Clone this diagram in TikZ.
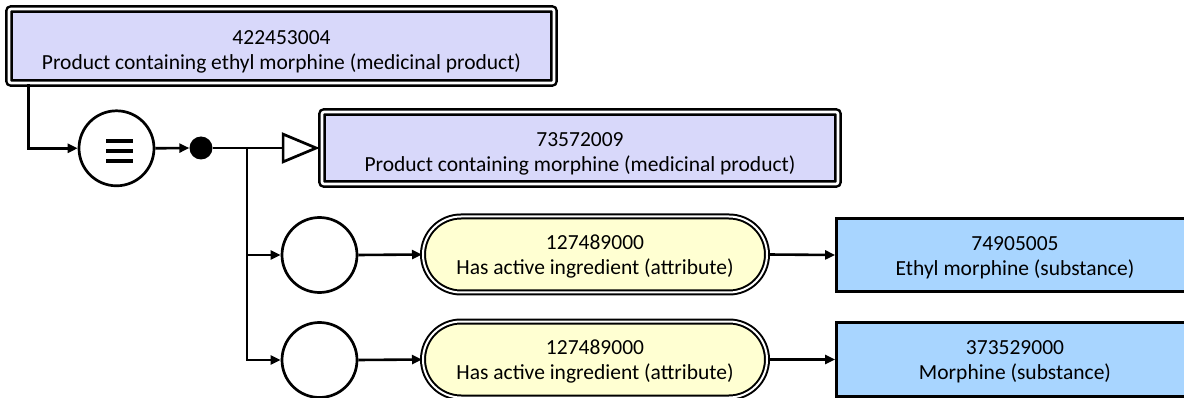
\documentclass[tikz,border=0pt]{standalone}
\usepackage{fontspec}
\setmainfont{Carlito}
\usetikzlibrary{arrows.meta,shapes.misc}
\definecolor{conceptfill}{HTML}{D8D8FA}
\definecolor{attrfill}{HTML}{FFFFD2}
\definecolor{valuefill}{HTML}{A8D5FF}
\begin{document}
\begin{tikzpicture}[x=1pt,y=-1pt,
  lbl/.style={align=center,font=\fontsize{21.5}{25}\selectfont,text=black,inner sep=0pt},
  defbox/.style={draw=black,double=white,double distance=2.6pt,line width=2.5pt,fill=conceptfill,rounded corners=2pt,inner sep=0pt},
  attrbox/.style={rounded rectangle,draw=black,double=white,double distance=2pt,line width=2pt,fill=attrfill,inner sep=0pt},
  valbox/.style={draw=black,line width=2.8pt,fill=valuefill,inner sep=0pt},
  grpcircle/.style={circle,draw=black,line width=2.7pt,fill=white,minimum size=75pt,inner sep=0pt},
  conn/.style={line width=2.6pt,-{Triangle[length=10pt,width=9pt]}}
]
\clip (0,0) rectangle (1184,398);
\useasboundingbox (0,0) rectangle (1184,398);

% concepts
\node[defbox,minimum width=545pt,minimum height=74pt] (b1) at (281.5,46) {};
\node[lbl] (b1t) at ([yshift=-6pt]b1.center) {422453004\\Product containing ethyl morphine (medicinal product)};
\node[defbox,minimum width=516pt,minimum height=72pt] (b2) at (580,148) {};
\node[lbl] (b2t) at ([yshift=-5.5pt]b2.center) {73572009\\Product containing morphine (medicinal product)};

% definition status and conjunction
\node[grpcircle] (eq) at (116.5,148.3) {};
\foreach \dy in {-7.5,2.5,12.5}{
  \draw[line width=4.2pt] ([shift={(-10.5,\dy)}]eq.center) -- ([shift={(16,\dy)}]eq.center);
}
\node[circle,fill=black,minimum size=23pt,inner sep=0pt] (dot) at (201,148) {};
\coordinate (j) at (247,148);

% attribute groups
\node[grpcircle] (g1) at (319.5,255) {};
\node[grpcircle] (g2) at (319.5,360) {};

% attributes
\node[attrbox,minimum width=344pt,minimum height=76pt] (a1) at (595,254.5) {};
\node[lbl] (a1t) at ([yshift=-2pt]a1.center) {127489000\\Has active ingredient (attribute)};
\node[attrbox,minimum width=344pt,minimum height=76pt] (a2) at (595,359.5) {};
\node[lbl] (a2t) at ([yshift=-2pt]a2.center) {127489000\\Has active ingredient (attribute)};

% values
\node[valbox,minimum width=357pt,minimum height=73.5pt] (v1) at (1015,255) {};
\node[lbl] (v1t) at ([yshift=-2.5pt]v1.center) {74905005\\Ethyl morphine (substance)};
\node[valbox,minimum width=357pt,minimum height=73.5pt] (v2) at (1015,359.5) {};
\node[lbl] (v2t) at ([yshift=-2.5pt]v2.center) {373529000\\Morphine (substance)};

% connectors
\draw[conn] ([xshift=20.5pt]b1.south west) |- (eq.west);
\draw[conn] (eq.east) -- (dot.west);
\draw[line width=2.7pt,-{Triangle[open,length=38pt,width=31pt]}] (dot.east) -- ([xshift=-1pt]b2.west);
\draw[conn] (j) |- (g1.west);
\draw[conn] (j) |- (g2.west);
\draw[conn] (g1.east) -- (a1.west);
\draw[conn] (g2.east) -- (a2.west);
\draw[conn] (a1.east) -- (v1.west);
\draw[conn] (a2.east) -- (v2.west);
\end{tikzpicture}
\end{document}
